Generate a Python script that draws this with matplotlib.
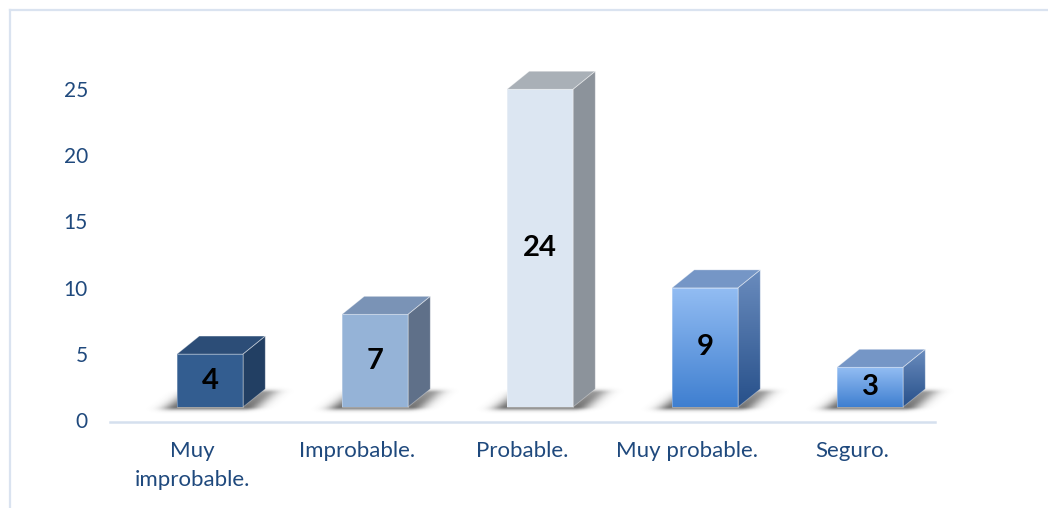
import numpy as np
import matplotlib
matplotlib.use("Agg")
import matplotlib.pyplot as plt
from matplotlib.patches import Polygon
from matplotlib.lines import Line2D

categories = ["Muy\nimprobable.", "Improbable.", "Probable.", "Muy probable.", "Seguro."]
values = [4, 7, 24, 9, 3]
yticks = [0, 5, 10, 15, 20, 25]

# colours per bar: (front, side, top) ; gradient bars have (top, bottom) pairs
flat_colors = {
    0: ("#335D90", "#223F63", "#2C4D77"),
    1: ("#95B3D7", "#5F7089", "#7A93B6"),
    2: ("#DCE6F2", "#8C939B", "#A9B0B7"),
}
grad_colors = {
    3: (("#93BDF3", "#3F7FD0"), ("#6A8CBE", "#27508A"), "#7596C6"),
    4: (("#93BDF3", "#3F7FD0"), ("#6A8CBE", "#27508A"), "#7596C6"),
}

TXT = "#1F497D"
plt.rcParams['font.family'] = ['Lato', 'DejaVu Sans']

fig = plt.figure(figsize=(10.48, 5.08), dpi=100)
ax = fig.add_axes([110/1048, 1 - 422/508, 825/1048, 28*13.24/508])
ax.set_xlim(-0.5, 4.5)
ax.set_ylim(0, 28)
ax.set_axis_off()

# offsets for pseudo-3D geometry (style constants)
W = 0.40
OFF = -0.094
DX = 0.135
DY = 1.36
BASE = 1.13


def grad_fill(poly_pts, c_top, c_bot, z):
    xs = [p[0] for p in poly_pts]
    ys = [p[1] for p in poly_pts]
    ext = [min(xs), max(xs), min(ys), max(ys)]
    ct = np.array(matplotlib.colors.to_rgb(c_top))
    cb = np.array(matplotlib.colors.to_rgb(c_bot))
    t = np.linspace(0, 1, 256)[:, None]
    img = ct * (1 - t) + cb * t
    img = img[:, None, :]
    im = ax.imshow(img, extent=ext, origin='upper', aspect='auto', zorder=z,
                   interpolation='bilinear')
    clip = Polygon(poly_pts, closed=True, transform=ax.transData, facecolor='none',
                   edgecolor='none', clip_on=False)
    ax.add_patch(clip)
    im.set_clip_path(clip)
    im.set_clip_on(True)


def shadow(x0, x1, y0):
    xa, xb = x0 - 0.25, x1 + DX + 0.3
    ya, yb = y0 - 0.6, y0 + DY + 0.4
    nx, ny = 300, 80
    xs = np.linspace(xa, xb, nx)
    ys = np.linspace(yb, ya, ny)
    X, Y = np.meshgrid(xs, ys)
    v = (Y - y0) / DY
    u = X - v * DX
    du = np.maximum(np.maximum(x0 - u, u - (x1 + 0.02)), 0)
    dv = np.maximum(np.maximum(-v, v - 0.75), 0)
    a = 0.7 * np.exp(-(du / 0.08) ** 2) * np.exp(-(dv / 0.18) ** 2)
    a *= np.clip(1.0 - 0.35 * np.clip(v, 0, 1), 0, 1)
    img = np.zeros((ny, nx, 4))
    img[..., 0:3] = 0.22
    img[..., 3] = a
    ax.imshow(img, extent=[xa, xb, ya, yb], origin='upper', aspect='auto', zorder=1,
              interpolation='bilinear', clip_on=False)


for i, v in enumerate(values):
    x0 = i + OFF
    x1 = x0 + W
    y0 = BASE
    y1 = BASE + v
    front = [(x0, y0), (x1, y0), (x1, y1), (x0, y1)]
    side = [(x1, y0), (x1 + DX, y0 + DY), (x1 + DX, y1 + DY), (x1, y1)]
    top = [(x0, y1), (x1, y1), (x1 + DX, y1 + DY), (x0 + DX, y1 + DY)]

    shadow(x0, x1, y0)

    if i in flat_colors:
        cf, cs, ct = flat_colors[i]
        ax.add_patch(Polygon(front, closed=True, facecolor=cf, edgecolor='none', zorder=3, clip_on=False))
        ax.add_patch(Polygon(side, closed=True, facecolor=cs, edgecolor='none', zorder=3, clip_on=False))
        ax.add_patch(Polygon(top, closed=True, facecolor=ct, edgecolor='none', zorder=3, clip_on=False))
    else:
        (ft, fb), (st, sb), ct = grad_colors[i]
        grad_fill(front, ft, fb, 3)
        grad_fill(side, st, sb, 3)
        ax.add_patch(Polygon(top, closed=True, facecolor=ct, edgecolor='none', zorder=3, clip_on=False))
    for pts in (front, side, top):
        ax.add_patch(Polygon(pts, closed=True, facecolor='none', edgecolor=(1, 1, 1, 0.35),
                             linewidth=0.6, zorder=4, clip_on=False))

    ax.text((x0 + x1) / 2, (y0 + y1) / 2, str(v), ha='center', va='center',
            fontsize=21, fontweight='bold', color='black', zorder=5)

# axis line
ax.add_line(Line2D([-0.5, 4.5], [0, 0], color='#D5E0EE', linewidth=1.8, zorder=2,
                   clip_on=False))

# y tick labels
for t in yticks:
    ax.text(-0.5 - 22 / 165, t, str(t), ha='right', va='center', fontsize=15,
            color=TXT)

# category labels
for i, c in enumerate(categories):
    ax.text(i, -19 / 13.24, c, ha='center', va='top', fontsize=16, color=TXT,
            linespacing=1.55)

# outer frame (partially visible)
fig.add_artist(Line2D([10/1048, 1.0], [1 - 10/508, 1 - 10/508], color='#DAE3F0',
                      linewidth=1.6, transform=fig.transFigure))
fig.add_artist(Line2D([10/1048, 10/1048], [0, 1 - 10/508], color='#DAE3F0',
                      linewidth=1.6, transform=fig.transFigure))

fig.savefig("out.png", dpi=100)
